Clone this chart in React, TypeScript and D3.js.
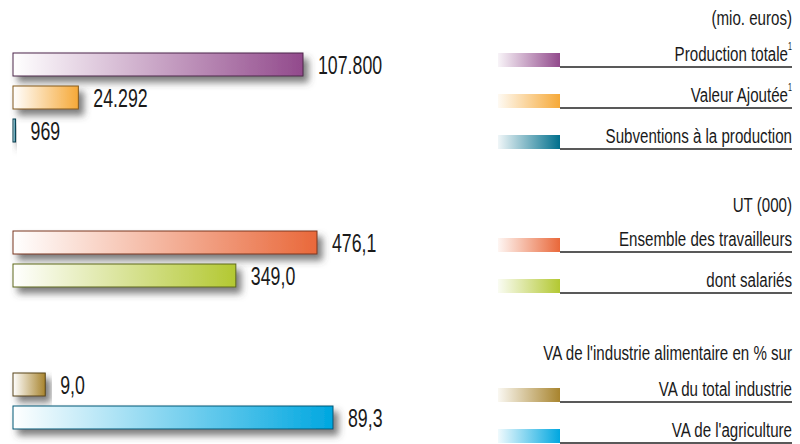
import React from 'react';
import * as d3 from 'd3';

const width = 800;
const height = 444;

// group 1: mio. euros
const euroLabels = ['Production totale', 'Valeur Ajoutée', 'Subventions à la production'];
const euroValues = [107800, 24292, 969];
const euroSup = [true, true, false];
const euroColors = ['#924a8c', '#f6a938', '#006f8c'];

// group 2: UT (000)
const utLabels = ['Ensemble des travailleurs', 'dont salariés'];
const utValues = [476.1, 349.0];
const utColors = ['#e9683a', '#b3c832'];

// group 3: VA en %
const vaLabels = ['VA du total industrie', "VA de l'agriculture"];
const vaValues = [9.0, 89.3];
const vaColors = ['#a8842e', '#00a7e0'];

const headers = ['(mio. euros)', 'UT (000)', "VA de l'industrie alimentaire en % sur"];

const locale = d3.formatLocale({ decimal: ',', thousands: '.', grouping: [3], currency: ['', ''] });
const fmtEuro = locale.format(',.0f');
const fmtDec = locale.format('.1f');

const groups = [
  { key: 'euro', labels: euroLabels, values: euroValues, colors: euroColors, sup: euroSup, fmt: fmtEuro, barTop: 53, maxW: 290, headY: 25, lineY: 67 },
  { key: 'ut', labels: utLabels, values: utValues, colors: utColors, sup: [false, false], fmt: fmtDec, barTop: 231, maxW: 304, headY: 212, lineY: 252 },
  { key: 'va', labels: vaLabels, values: vaValues, colors: vaColors, sup: [false, false], fmt: fmtDec, barTop: 373, maxW: 320, headY: 360, lineY: 402 },
];

const barX = 13;
const barH = 23;
const barStep = 33;
const rowStep = 41;
const textRight = 792;
const swatchX = 498;
const swatchW = 62;
const font = "'Liberation Sans', Arial, sans-serif";

// condensed text: horizontally squeezed Liberation Sans
const Narrow = ({ x, y, size, anchor = 'start', sx = 0.72, dy, children }) => (
  <text
    transform={`translate(${x},${y}) scale(${sx},1)`}
    fontSize={size}
    textAnchor={anchor}
    dy={dy}
    fill="#1a1a1a"
  >
    {children}
  </text>
);

const App = () => {
  return (
    <svg width={width} height={height} style={{ position: 'absolute', left: 0, top: 0, background: '#fff' }}>
      <defs>
        <filter id="shadow" x="-10%" y="-60%" width="130%" height="280%">
          <feDropShadow dx="5" dy="6" stdDeviation="3.5" floodColor="#444" floodOpacity="0.7" />
        </filter>
        {groups.map(g =>
          g.colors.map((c, i) => (
            <React.Fragment key={g.key + i}>
              <linearGradient id={`bar-${g.key}-${i}`} x1="0" x2="1" y1="0" y2="0">
                <stop offset="0" stopColor="#fff" />
                <stop offset="1" stopColor={c} />
              </linearGradient>
              <linearGradient id={`sw-${g.key}-${i}`} x1="0" x2="1" y1="0" y2="0">
                <stop offset="0" stopColor={d3.interpolateRgb('#fff', c)(0.06)} />
                <stop offset="1" stopColor={c} />
              </linearGradient>
            </React.Fragment>
          ))
        )}
      </defs>

      {groups.map((g, gi) => {
        const x = d3.scaleLinear().domain([0, d3.max(g.values)]).range([0, g.maxW]);
        return (
          <g key={g.key} fontFamily={font}>
            {/* Bars */}
            {g.values.map((v, i) => {
              const y = g.barTop + i * barStep;
              const w = Math.max(x(v), 2.5);
              return (
                <g key={i}>
                  <rect
                    x={barX}
                    y={y}
                    width={w}
                    height={barH}
                    fill={`url(#bar-${g.key}-${i})`}
                    stroke={d3.color(g.colors[i]).darker(1.8).formatHex()}
                    strokeWidth={1}
                    filter="url(#shadow)"
                  />
                  <Narrow x={barX + w + 15} y={y + barH / 2} size={25} sx={0.71} dy="0.36em">
                    {g.fmt(v)}
                  </Narrow>
                </g>
              );
            })}

            {/* Legend */}
            <Narrow x={textRight} y={g.headY} size={21} anchor="end">
              {headers[gi]}
            </Narrow>
            {g.labels.map((lab, i) => {
              const ly = g.lineY + i * rowStep;
              return (
                <g key={lab}>
                  <rect x={swatchX} y={ly - 14} width={swatchW} height={14} fill={`url(#sw-${g.key}-${i})`} />
                  <line x1={swatchX + swatchW} x2={textRight} y1={ly} y2={ly} stroke="#222" strokeWidth={1.3} />
                  <Narrow x={textRight - (g.sup[i] ? 4 : 0)} y={ly - 6} size={21} anchor="end">
                    {lab}
                  </Narrow>
                  {g.sup[i] && (
                    <Narrow x={textRight} y={ly - 17} size={10} anchor="end">1</Narrow>
                  )}
                </g>
              );
            })}
          </g>
        );
      })}
    </svg>
  );
};

export default App;
